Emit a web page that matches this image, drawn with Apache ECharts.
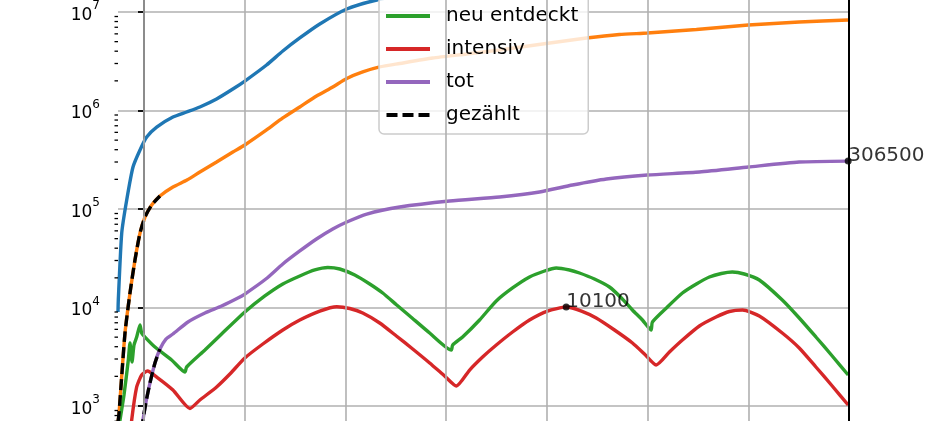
<!DOCTYPE html>
<html>
<head>
<meta charset="utf-8">
<script src="https://cdn.jsdelivr.net/npm/echarts@6/dist/echarts.min.js"></script>
<style>
html,body{margin:0;padding:0;background:#fff;}
#chart{width:945px;height:421px;}
</style>
</head>
<body>
<div id="chart"></div>
<script>
// ---- data (x in days, y in persons) ----
const infDays = [-5.16, -5.10, -4.42, -3.43, -2.18, -0.79, 0.54, 2.52, 5.75, 8.47, 11.1, 14.42, 17.65, 20.03, 24.34, 27.57, 30.94, 34.91, 40.27, 46.22, 54.7, 70.6, 100, 139.8];
const infVals = [9000, 11900, 57000, 123300, 266700, 397000, 538000, 679000, 859000, 966000, 1086000, 1310000, 1652000, 1991000, 2896000, 4018000, 5447000, 7553000, 10720000, 13240000, 16000000, 21000000, 27000000, 31000000];

const entDays = [-5.16, -5.0, -4.76, -3.77, -2.78, -1.79, -0.79, 0.2, 1.53, 3.17, 5.75, 8.53, 11.1, 14.42, 17.65, 20.03, 24.34, 27.57, 30.94, 34.26, 37.49, 40.27, 43.44, 46.82, 50.78, 57.32, 64.07, 70.61, 79.14, 87.87, 94.41, 99.97, 109.7, 120.0, 130.1, 139.8];
const entVals = [690, 791, 1151, 5508, 14030, 30340, 57020, 82950, 109900, 135500, 167000, 196800, 237600, 299800, 379200, 446700, 634300, 839700, 1086000, 1402000, 1733000, 2113000, 2461000, 2767000, 3000000, 3412000, 3747000, 4114000, 4732000, 5447000, 5911000, 6119000, 6640000, 7381000, 7907000, 8298000];

const neuDays = [-5.16, -4.76, -3.97, -3.11, -2.78, -2.38, -1.98, -1.45, -0.79, -0.46, 0.2, 2.18, 5.49, 8.13, 8.47, 12.10, 15.41, 20.03, 24.0, 27.57, 30.94, 33.92, 36.50, 38.88, 41.86, 44.83, 47.41, 50.19, 52.77, 56.73, 61.03, 61.29, 63.27, 66.64, 69.96, 73.19, 76.56, 79.54, 81.86, 84.49, 86.48, 89.45, 92.43, 94.81, 96.99, 98.98, 100.70, 100.96, 103.94, 106.92, 109.69, 112.27, 114.65, 116.83, 119.21, 122.19, 126.75, 130.12, 133.43, 136.67, 139.84];
const neuVals = [500, 721, 1295, 2930, 4360, 2800, 4160, 5010, 6640, 5510, 5010, 3970, 2930, 2213, 2489, 3706, 5383, 8995, 13090, 17330, 20880, 24030, 25470, 24600, 21380, 17330, 14030, 10600, 8199, 5508, 3706, 4159, 5019, 7470, 11640, 15780, 20400, 23480, 25180, 24030, 22390, 19460, 16150, 12480, 9431, 7470, 5912, 7126, 10120, 14030, 17330, 20400, 22140, 22910, 21880, 19030, 11910, 7824, 5019, 3219, 2065];

const intDays = [-2.88, -2.44, -1.45, -0.46, 0.69, 2.52, 5.75, 9.12, 11.11, 14.42, 17.06, 20.03, 23.60, 27.57, 30.94, 34.91, 38.28, 40.86, 43.44, 46.81, 50.12, 53.36, 56.73, 59.70, 62.03, 64.66, 67.24, 69.96, 73.19, 76.56, 80.13, 83.84, 86.88, 89.80, 93.43, 97.00, 99.38, 101.70, 104.34, 106.92, 110.29, 113.60, 116.24, 118.88, 122.19, 126.75, 130.12, 133.43, 136.67, 139.84];
const intVals = [402, 721, 1560, 2065, 2265, 1969, 1453, 944, 1151, 1560, 2113, 3072, 4260, 5912, 7470, 9204, 10190, 9772, 8793, 6964, 5140, 3793, 2735, 2018, 1596, 2318, 3141, 4159, 5640, 7470, 9204, 10100, 9204, 7824, 5912, 4365, 3374, 2608, 3535, 4677, 6491, 8011, 9104, 9431, 8199, 5508, 3880, 2489, 1596, 1023];

const totDays = [-0.50, -0.20, 0.40, 1.19, 2.18, 3.17, 4.36, 5.75, 8.73, 12.10, 15.41, 18.65, 20.03, 24.20, 27.57, 30.94, 34.26, 37.49, 40.27, 44.24, 50.78, 60.70, 70.61, 78.55, 85.09, 91.84, 99.97, 110.3, 120.0, 130.1, 139.84];
const totVals = [570, 721, 1099, 1714, 2735, 3793, 4786, 5383, 7126, 8793, 10350, 12480, 13700, 19450, 27670, 37490, 49610, 62650, 73790, 88920, 104700, 120500, 132400, 148800, 175300, 201800, 221400, 237600, 266800, 299800, 306500];

const countCaseDays = [-5.16, -5.0, -4.76, -3.77, -2.78, -1.79, -0.79, 0.2, 1.53, 3.17];
const countCaseVals = [690, 791, 1151, 5508, 14030, 30340, 57020, 82950, 109900, 135500];
const countDeathDays = [-0.50, -0.20, 0.40, 1.19, 2.18, 3.17];
const countDeathVals = [570, 721, 1099, 1714, 2735, 3793];

const annotDays = [83.84, 139.84];
const annotVals = [10100, 306500];

const seriesNames = ['infiziert', 'entdeckt', 'neu entdeckt', 'intensiv', 'tot', 'gezählt'];
const gridDays = [0, 20, 40, 60, 80, 100, 120];
const minorTickVals = [];
for (let k = 2; k <= 7; k++) for (let m = 2; m <= 9; m++) minorTickVals.push(m * Math.pow(10, k));

// ---- layout / style ----
const FONT = 'DejaVu Sans';
const X_MIN = -5.16, X_MAX = 140;
const colors = ['#1f77b4', '#ff7f0e', '#2ca02c', '#d62728', '#9467bd', '#000000'];
const LW = 3.4;
const pairs = (d, v) => d.map((x, i) => [x, v[i]]);
const SOLID_ICON = 'path://M0,0h44v4h-44z';
const DASH_ICON = 'path://M0,0h11v4h-11z M16,0h11v4h-11z M32,0h11v4h-11z';

function lineSeries(name, days, vals, color, dashed, z) {
  return {
    name: name, type: 'line', data: pairs(days, vals),
    symbol: 'none', smooth: 0.2, z: z,
    lineStyle: { color: color, width: LW, type: dashed ? [11, 5] : 'solid', cap: 'butt' },
    itemStyle: { color: color },
    emphasis: { disabled: true }, silent: true
  };
}

const chart = echarts.init(document.getElementById('chart'), null, { renderer: 'canvas' });
chart.setOption({
  animation: false,
  backgroundColor: '#ffffff',
  grid: { left: 118, right: 96, top: -86.5, bottom: -83.5, containLabel: false, outerBoundsMode: 'none' },
  xAxis: {
    type: 'value', min: X_MIN, max: X_MAX,
    axisLine: { show: false }, axisTick: { show: false }, axisLabel: { show: false }, splitLine: { show: false }
  },
  yAxis: {
    type: 'log', logBase: 10, min: 100, max: 1e8,
    axisLine: { show: true, lineStyle: { color: '#000', width: 2 } },
    axisTick: { show: true, length: 6, lineStyle: { color: '#000', width: 1.8 } },
    splitLine: { show: true, lineStyle: { color: '#b0b0b0', width: 1.6 } },
    axisLabel: {
      margin: 18,
      formatter: function (v) { return '{b|10}{s|' + Math.round(Math.log10(v)) + '}'; },
      rich: {
        b: { fontFamily: FONT, fontSize: 17, color: '#000', verticalAlign: 'bottom', lineHeight: 24 },
        s: { fontFamily: FONT, fontSize: 12, color: '#000', verticalAlign: 'top', lineHeight: 24 }
      }
    }
  },
  legend: {
    data: [
      { name: seriesNames[0], icon: SOLID_ICON },
      { name: seriesNames[1], icon: SOLID_ICON },
      { name: seriesNames[2], icon: SOLID_ICON },
      { name: seriesNames[3], icon: SOLID_ICON },
      { name: seriesNames[4], icon: SOLID_ICON },
      { name: seriesNames[5], icon: DASH_ICON }
    ],
    orient: 'vertical', left: 379, top: -70,
    itemWidth: 44, itemHeight: 4, itemGap: 13,
    padding: [10, 10, 9, 7],
    backgroundColor: 'rgba(255,255,255,0.8)', borderColor: '#cccccc', borderWidth: 1.5, borderRadius: 5,
    selectedMode: false,
    textStyle: { fontFamily: FONT, fontSize: 20, color: '#000', padding: [0, 0, 0, 11], lineHeight: 20 }
  },
  series: [
    {
      name: '_grid', type: 'line', data: [], z: 1, silent: true,
      markLine: {
        silent: true, symbol: 'none', label: { show: false }, animation: false,
        lineStyle: { color: '#b0b0b0', width: 1.6, type: 'solid' },
        data: gridDays.map(d => ({ xAxis: d })).concat([{ xAxis: X_MAX, lineStyle: { color: '#000', width: 2, type: 'solid' } }])
      }
    },
    {
      name: '_minor', type: 'custom', silent: true, z: 5, clip: false,
      data: minorTickVals.map(v => [X_MIN, v]),
      encode: { x: 0, y: 1 },
      renderItem: function (params, api) {
        const p = api.coord([X_MIN, api.value(1)]);
        return { type: 'line', shape: { x1: p[0] - 3.5, y1: p[1], x2: p[0], y2: p[1] }, style: { stroke: '#000', lineWidth: 1.3 } };
      }
    },
    lineSeries(seriesNames[0], infDays, infVals, colors[0], false, 2),
    lineSeries(seriesNames[1], entDays, entVals, colors[1], false, 2),
    lineSeries(seriesNames[2], neuDays, neuVals, colors[2], false, 2),
    lineSeries(seriesNames[3], intDays, intVals, colors[3], false, 2),
    lineSeries(seriesNames[4], totDays, totVals, colors[4], false, 2),
    lineSeries(seriesNames[5], countCaseDays, countCaseVals, colors[5], true, 3),
    lineSeries(seriesNames[5], countDeathDays, countDeathVals, colors[5], true, 3),
    {
      name: '_annot', type: 'scatter', z: 6, silent: true,
      data: pairs(annotDays, annotVals),
      symbol: 'circle', symbolSize: 7, itemStyle: { color: '#000' },
      label: {
        show: true, position: [3.5, 8], align: 'left', verticalAlign: 'bottom',
        fontFamily: FONT, fontSize: 20, color: '#000',
        formatter: function (p) { return String(p.value[1]); }
      }
    }
  ]
});
</script>
</body>
</html>
